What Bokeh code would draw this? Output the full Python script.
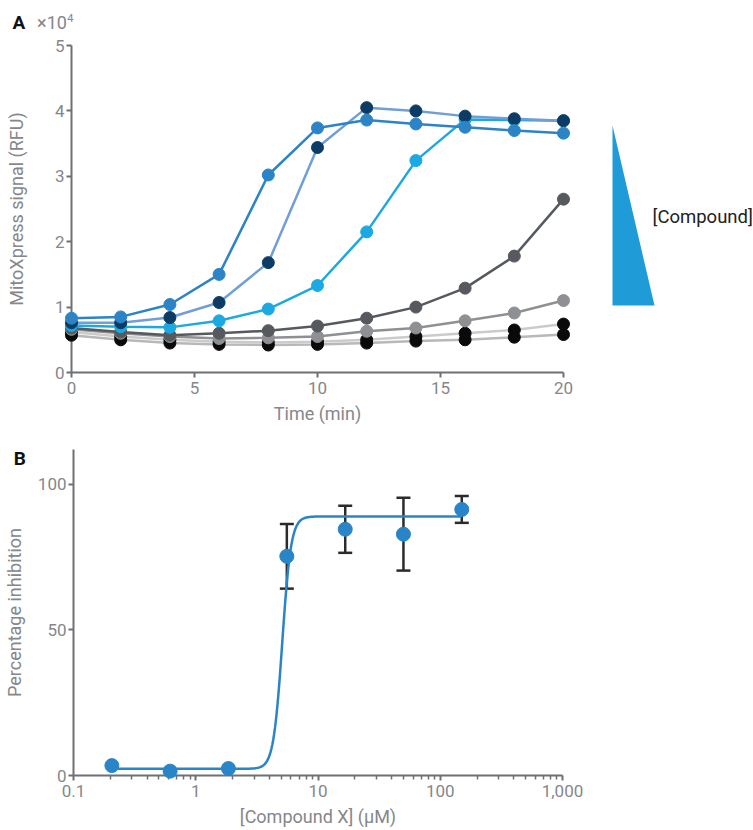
import numpy as np
from bokeh.plotting import figure
from bokeh.models import Range1d, Whisker, TeeHead, ColumnDataSource, FixedTicker
from bokeh.layouts import column, row
from bokeh.embed import file_html
from bokeh.resources import INLINE
from bokeh.core.properties import value

# ---------------- data: panel A (signal in units of 1e4 RFU) ----------------
time_min = [0, 2, 4, 6, 8, 10, 12, 14, 16, 18, 20]
sig_blue = [0.83, 0.85, 1.04, 1.50, 3.02, 3.74, 3.86, 3.80, 3.75, 3.70, 3.66]
sig_navy = [0.76, 0.76, 0.84, 1.07, 1.68, 3.44, 4.05, 4.00, 3.92, 3.88, 3.85]
sig_cyan = [0.72, 0.70, 0.69, 0.79, 0.97, 1.33, 2.15, 3.24, 3.87, 3.86, 3.85]
sig_dgrey = [0.68, 0.62, 0.57, 0.60, 0.64, 0.71, 0.83, 1.00, 1.29, 1.78, 2.65]
sig_mgrey = [0.66, 0.60, 0.55, 0.52, 0.53, 0.55, 0.63, 0.68, 0.79, 0.91, 1.10]
sig_lgrey1 = [0.62, 0.55, 0.50, 0.47, 0.46, 0.47, 0.50, 0.55, 0.60, 0.65, 0.74]
sig_lgrey2 = [0.57, 0.50, 0.45, 0.43, 0.42, 0.43, 0.45, 0.48, 0.50, 0.54, 0.58]

# ---------------- data: panel B ----------------
conc_uM = [0.206, 0.617, 1.85, 5.56, 16.7, 50.0, 150.0]
inhibition = [3.4, 1.5, 2.4, 75.3, 84.6, 82.9, 91.4]
inhibition_sd = [0.0, 0.0, 0.0, 11.1, 8.1, 12.5, 4.6]
# fitted four-parameter logistic
fit_bottom, fit_top, fit_ic50, fit_hill = 2.3, 89.0, 5.1, 12.0

a_xticks = [0, 5, 10, 15, 20]
a_yticks = [0, 1, 2, 3, 4, 5]
b_xticks = [0.1, 1, 10, 100, 1000]
b_xlabels = ["0.1", "1", "10", "100", "1,000"]
b_yticks = [0, 50, 100]

FONT = "Roboto"
TXT = "#85878b"
AXC = "#6e7074"


def style_axis(ax):
    ax.axis_line_color = AXC
    ax.axis_line_width = 2
    ax.major_tick_line_color = AXC
    ax.major_tick_line_width = 2
    ax.major_tick_out = 5
    ax.major_tick_in = 0
    ax.minor_tick_line_color = AXC
    ax.minor_tick_line_width = 1.5
    ax.minor_tick_out = 4
    ax.minor_tick_in = 0
    ax.major_label_text_font = FONT
    ax.major_label_text_font_size = "17px"
    ax.major_label_text_color = TXT
    ax.axis_label_text_font = FONT
    ax.axis_label_text_font_size = "18px"
    ax.axis_label_text_color = TXT
    ax.axis_label_text_font_style = "normal"


# ---------------- panel A ----------------
pA = figure(width=583, height=440, x_range=Range1d(0, 20), y_range=Range1d(0, 5.0),
            output_backend="svg", toolbar_location=None,
            min_border_left=71, min_border_right=20, min_border_top=45, min_border_bottom=68)
pA.outline_line_color = None
pA.grid.visible = False
for ax in (pA.xaxis[0], pA.yaxis[0]):
    style_axis(ax)
pA.xaxis.ticker = FixedTicker(ticks=a_xticks)
pA.yaxis.ticker = FixedTicker(ticks=a_yticks)
pA.xaxis.major_label_standoff = 4
pA.yaxis.major_label_standoff = 2
pA.xaxis.axis_label = "Time (min)"
pA.xaxis.axis_label_standoff = 6
pA.yaxis.axis_label = "MitoXpress signal (RFU)"
pA.yaxis.axis_label_standoff = 25

series = [
    (sig_lgrey2, "#b8b8b8", "#0a0a0a"),
    (sig_lgrey1, "#cbcbcb", "#0a0a0a"),
    (sig_mgrey, "#8e9093", "#8e9093"),
    (sig_dgrey, "#56595d", "#56595d"),
    (sig_cyan, "#1ca9e1", "#1ca9e1"),
    (sig_navy, "#709fd8", "#0c3c66"),
    (sig_blue, "#2c84c6", "#2c84c6"),
]
for ys, lc, mc in series:
    pA.line(time_min, ys, line_color=lc, line_width=2.5, level="overlay")
    pA.scatter(time_min, ys, size=12, fill_color=mc, line_color=mc, level="overlay")

pA.text(x=[-2.40], y=[5.35], text=["A"], text_font=value(FONT), text_font_size="19px",
        text_font_style="bold", text_color="#111111", text_baseline="middle",
        level="overlay")
pA.text(x=[-1.40], y=[5.35], text=["×10"], text_font=value(FONT), text_font_size="18px",
        text_color=TXT, text_baseline="middle", level="overlay")
pA.text(x=[-0.17], y=[5.42], text=["4"], text_font=value(FONT), text_font_size="11px",
        text_color=TXT, text_baseline="middle", level="overlay")

# ---------------- concentration wedge ----------------
wedge_x = [0, 0, 1]
wedge_y = [1, 0, 0]
pT = figure(width=170, height=440, x_range=Range1d(-0.6905, 3.357), y_range=Range1d(-0.372, 1.444),
            output_backend="svg", toolbar_location=None, x_axis_type=None, y_axis_type=None,
            min_border=0)
pT.outline_line_color = None
pT.grid.visible = False
pT.patch(wedge_x, wedge_y, fill_color="#1f9bd7", line_color=None)
pT.text(x=[0.952], y=[0.489], text=["[Compound]"], text_font=value(FONT), text_font_size="18.5px",
        text_color="#222222", text_align="left", text_baseline="middle", level="overlay")

# ---------------- panel B ----------------
pB = figure(width=600, height=390, x_axis_type="log", x_range=Range1d(0.1, 1000),
            y_range=Range1d(0, 112), output_backend="svg", toolbar_location=None,
            min_border_left=72, min_border_right=38, min_border_top=9, min_border_bottom=55)
pB.outline_line_color = None
pB.grid.visible = False
for ax in (pB.xaxis[0], pB.yaxis[0]):
    style_axis(ax)
minor = [m * 10.0 ** k for k in range(-1, 3) for m in range(2, 10)]
pB.xaxis.ticker = FixedTicker(ticks=b_xticks, minor_ticks=minor)
pB.xaxis.major_label_overrides = {t: l for t, l in zip(b_xticks, b_xlabels)}
pB.yaxis.ticker = FixedTicker(ticks=b_yticks)
pB.xaxis.major_label_standoff = 4
pB.xaxis.axis_label_standoff = 6
pB.yaxis.major_label_standoff = 2
pB.yaxis.axis_label_standoff = 10
pB.xaxis.axis_label = "[Compound X] (µM)"
pB.yaxis.axis_label = "Percentage inhibition"

xc = np.geomspace(conc_uM[0], conc_uM[-1], 400)
yc = fit_bottom + (fit_top - fit_bottom) / (1 + (fit_ic50 / xc) ** fit_hill)

eb_x = [c for c, s in zip(conc_uM, inhibition_sd) if s > 0]
eb_up = [m + s for m, s in zip(inhibition, inhibition_sd) if s > 0]
eb_lo = [m - s for m, s in zip(inhibition, inhibition_sd) if s > 0]
eb_src = ColumnDataSource(dict(x=eb_x, upper=eb_up, lower=eb_lo))
pB.add_layout(Whisker(base="x", upper="upper", lower="lower", source=eb_src,
                      line_color="#2b2b2b", line_width=2.5,
                      upper_head=TeeHead(size=14, line_color="#2b2b2b", line_width=2.5),
                      lower_head=TeeHead(size=14, line_color="#2b2b2b", line_width=2.5)))
pB.line(xc, yc, line_color="#2a85c8", line_width=2.5, level="overlay")
pB.scatter(conc_uM, inhibition, size=14, fill_color="#2a85c8", line_color="#2a85c8",
           level="overlay")

pB.text(x=[0.0324], y=[109.0], text=["B"], text_font=value(FONT), text_font_size="19px",
        text_font_style="bold", text_color="#111111", text_baseline="middle",
        level="overlay")

layout = column(row(pA, pT), pB)
open("out.html", "w").write(file_html(layout, INLINE))
